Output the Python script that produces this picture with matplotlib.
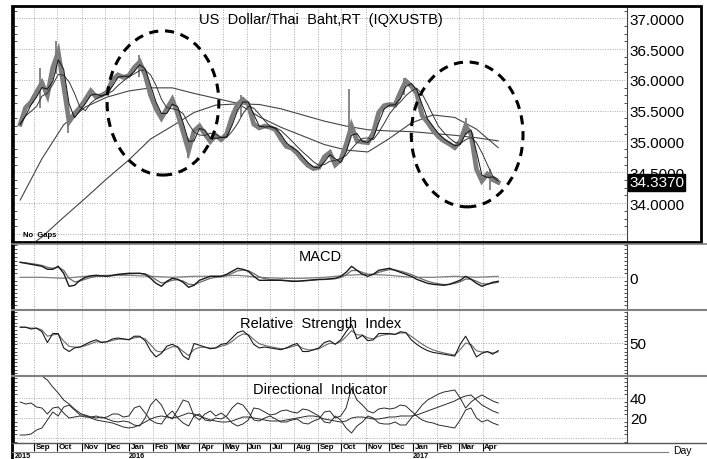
import matplotlib
matplotlib.use('Agg')
import matplotlib.pyplot as plt
import matplotlib.dates as mdates
import matplotlib.transforms as mtransforms
from matplotlib.patches import Ellipse, Rectangle
from matplotlib.lines import Line2D
from matplotlib.ticker import MultipleLocator
import pandas as pd

plt.rcParams['font.family'] = ['Liberation Sans', 'DejaVu Sans']

# ---------------- data ----------------
weeks = pd.date_range('2015-08-14', '2017-04-21', freq='W-FRI')     # 89 weekly points
grid4 = pd.date_range('2015-08-14', periods=23, freq='4W-FRI')       # 23 points, every 4 weeks

close = [35.28, 35.55, 35.64, 35.80, 35.95, 35.75, 36.20, 36.45, 35.90, 35.32,
         35.45, 35.55, 35.68, 35.82, 35.72, 35.75, 35.80, 36.00, 36.08, 36.04,
         36.07, 36.20, 36.29, 36.08, 35.75, 35.53, 35.38, 35.53, 35.68, 35.45,
         35.15, 34.85, 35.17, 35.25, 35.12, 35.00, 35.10, 35.03, 35.12, 35.40,
         35.60, 35.68, 35.60, 35.28, 35.22, 35.25, 35.23, 35.19, 35.04, 34.92,
         34.89, 34.81, 34.70, 34.61, 34.56, 34.58, 34.75, 34.82, 34.62, 34.70,
         34.95, 35.25, 35.01, 34.99, 34.98, 35.14, 35.47, 35.58, 35.60, 35.59,
         35.80, 35.98, 35.90, 35.78, 35.42, 35.31, 35.18, 35.08, 35.01, 34.96,
         34.90, 35.00, 35.25, 35.12, 34.55, 34.36, 34.47, 34.38, 34.337]

spike_dates = ['2015-09-08', '2015-09-29', '2015-10-14', '2016-01-14', '2016-03-17',
               '2016-05-24', '2016-10-11', '2016-12-20', '2017-03-10', '2017-04-10']
spike_high = [36.20, 36.63, 35.45, 36.40, 35.05, 35.75, 35.85, 36.03, 35.38, 34.55]
spike_low = [35.55, 36.10, 35.13, 36.05, 34.73, 35.40, 35.00, 35.75, 35.10, 34.22]

ma_long = [33.20, 33.45, 33.77, 34.08, 34.40, 34.70, 35.04, 35.25, 35.47, 35.59, 35.61, 35.60,
           35.53, 35.43, 35.33, 35.25, 35.19, 35.17, 35.16, 35.13, 35.10, 35.06, 35.01]
ma_medium = [34.05, 34.72, 35.27, 35.56, 35.72, 35.82, 35.87, 35.87, 35.78, 35.70, 35.62, 35.40,
             35.23, 35.09, 34.95, 34.86, 34.83, 35.05, 35.30, 35.43, 35.39, 35.20, 34.90]

macd = [0.15, 0.14, 0.13, 0.12, 0.11, 0.08, 0.08, 0.11, 0.04, -0.09,
        -0.08, -0.03, 0.00, 0.015, 0.02, 0.015, 0.01, 0.02, 0.03, 0.035,
        0.04, 0.04, 0.04, 0.03, -0.01, -0.06, -0.09, -0.04, -0.01, -0.02,
        -0.05, -0.10, -0.08, -0.03, -0.01, 0.01, 0.01, 0.01, 0.03, 0.06,
        0.09, 0.08, 0.06, 0.01, -0.03, -0.03, -0.03, -0.03, -0.03, -0.035,
        -0.04, -0.04, -0.035, -0.03, -0.025, -0.02, -0.02, -0.015, -0.01, 0.01,
        0.05, 0.11, 0.07, 0.03, 0.01, 0.03, 0.07, 0.08, 0.09, 0.07,
        0.05, 0.03, 0.01, -0.02, -0.04, -0.06, -0.07, -0.075, -0.08, -0.07,
        -0.05, -0.03, 0.01, -0.02, -0.06, -0.09, -0.07, -0.05, -0.04]
macd_flat = [0.00, 0.00, -0.01, 0.01, 0.02, 0.02, 0.01, 0.00, 0.01, 0.01, 0.02, 0.00,
             -0.01, -0.01, 0.00, 0.02, 0.03, 0.02, 0.00, 0.00, 0.01, 0.00, 0.01]

rsi = [67, 67, 65, 66, 62, 50, 60, 60, 44, 40,
       44, 45, 48, 51, 53, 50, 51, 54, 55, 54,
       53, 57, 57, 52, 41, 34, 38, 46, 48, 45,
       35, 31, 49, 47, 45, 43, 44, 48, 49, 55,
       61, 63, 58, 48, 44, 45, 44, 43, 42, 44,
       47, 49, 40, 40, 42, 44, 50, 52, 48, 53,
       62, 70, 54, 58, 52, 53, 60, 60, 60, 59,
       62, 61, 53, 48, 44, 41, 39, 38, 37, 36,
       35, 48, 57, 46, 34, 38, 40, 37, 41]

adx = [72, 70, 68, 65, 62, 58, 51, 45, 38, 34,
       29, 25, 22, 20, 18, 17, 16, 15, 13, 11,
       10, 11, 13, 16, 19, 21, 22, 21, 20, 21,
       23, 25, 24, 22, 20, 18, 17, 16, 16, 17,
       19, 21, 21, 20, 19, 18, 17, 17, 17, 18,
       19, 20, 21, 22, 22, 21, 19, 18, 17, 16,
       17, 20, 21, 21, 20, 19, 19, 20, 21, 21,
       22, 22, 22, 23, 25, 27, 29, 31, 33, 35,
       37, 40, 42, 43, 38, 33, 30, 27, 25]
plus_di = [36, 34, 35, 31, 30, 24, 30, 31, 25, 20,
           21, 22, 21, 21, 22, 20, 21, 24, 24, 21,
           22, 30, 32, 25, 18, 15, 14, 22, 27, 20,
           15, 12, 22, 24, 18, 17, 20, 19, 22, 30,
           35, 33, 26, 18, 17, 20, 22, 19, 16, 16,
           18, 19, 15, 14, 17, 19, 26, 27, 20, 22,
           30, 50, 38, 33, 27, 25, 29, 30, 29, 30,
           33, 32, 27, 22, 18, 16, 15, 13, 12, 11,
           10, 18, 28, 30, 20, 16, 18, 15, 13]
minus_di = [3, 3, 4, 8, 10, 18, 26, 22, 31, 33,
            28, 23, 23, 21, 20, 21, 19, 17, 16, 17,
            16, 13, 12, 20, 33, 39, 33, 22, 19, 28,
            38, 36, 22, 18, 24, 27, 22, 25, 21, 15,
            12, 14, 18, 30, 29, 26, 23, 24, 27, 28,
            26, 25, 29, 28, 25, 22, 16, 15, 22, 18,
            10, 5, 12, 16, 22, 20, 15, 14, 14, 16,
            13, 13, 20, 26, 33, 38, 41, 44, 46, 47,
            48, 40, 30, 36, 40, 43, 40, 37, 35]

month_starts = pd.date_range('2015-09-01', '2017-04-01', freq='MS')
month_labels = ['Sep', 'Oct', 'Nov', 'Dec', 'Jan', 'Feb', 'Mar', 'Apr', 'May', 'Jun',
                'Jul', 'Aug', 'Sep', 'Oct', 'Nov', 'Dec', 'Jan', 'Feb', 'Mar', 'Apr']
year_labels = ['2015', '2016', '2017']
year_dates = ['2015-08-07', '2016-01-01', '2017-01-01']

price_ticks = [33.5, 34.0, 34.5, 35.0, 35.5, 36.0, 36.5, 37.0]
price_tick_labels = ['', '34.0000', '34.5000', '35.0000', '35.5000', '36.0000', '36.5000', '37.0000']
last_price = 34.337

# derived lines
s_close = pd.Series(close)
ma_fast = s_close.rolling(2, min_periods=1).mean()
ma_mid = s_close.rolling(4, min_periods=1).mean()
macd_signal = pd.Series(macd).ewm(span=3, adjust=False).mean()
rsi_signal = pd.Series(rsi).ewm(span=3, adjust=False).mean()

# ---------------- figure ----------------
W, H = 707, 460
fig = plt.figure(figsize=(W / 100, H / 100), dpi=100)
fig.patch.set_facecolor('white')


def fx(px):
    return px / W


def fy(py):
    return 1 - py / H


L, R = 14, 627
aw = (R - L) / W
ax_p = fig.add_axes([fx(L), fy(242), aw, (242 - 7.5) / H])
ax_m = fig.add_axes([fx(L), fy(309.5), aw, (309.5 - 244) / H])
ax_r = fig.add_axes([fx(L), fy(376), aw, (376 - 311.5) / H])
ax_d = fig.add_axes([fx(L), fy(444), aw, (444 - 377.5) / H])

xmin, xmax = pd.Timestamp('2015-08-06'), pd.Timestamp('2017-10-04')
grid_kw = dict(color='#a8a8a8', linestyle=(0, (1, 1.5)), linewidth=0.7)

for ax in (ax_p, ax_m, ax_r, ax_d):
    ax.set_xlim(xmin, xmax)
    ax.set_xticks(month_starts)
    ax.tick_params(axis='x', which='both', bottom=False, top=False, labelbottom=False)
    ax.grid(True, which='major', **grid_kw)
    ax.set_axisbelow(True)
    ax.yaxis.tick_right()
    ax.tick_params(axis='y', which='major', length=0, pad=2, labelsize=11,
                   labelright=True, labelleft=False)
    ax.tick_params(axis='y', which='minor', left=True, right=True, direction='in',
                   length=2.2, width=0.6, color='#333333')
    ax.spines['top'].set_visible(False)
    ax.spines['bottom'].set_visible(False)
    ax.spines['left'].set_linewidth(1.2)
    ax.spines['right'].set_linestyle((0, (1, 1)))
    ax.spines['right'].set_color('#444444')

# ---- price panel ----
ax_p.set_ylim(33.385, 37.19)
ax_p.set_yticks(price_ticks)
ax_p.set_yticklabels(price_tick_labels)
ax_p.yaxis.set_minor_locator(MultipleLocator(0.125))
ax_p.plot(grid4, ma_long, color='#444444', lw=0.8, zorder=2)
ax_p.plot(grid4, ma_medium, color='#444444', lw=0.8, zorder=2)
ax_p.vlines(pd.to_datetime(spike_dates), spike_low, spike_high, color='#7d7d7d', lw=1.3, zorder=3)
ax_p.plot(weeks, close, color='#7d7d7d', lw=3.4, solid_joinstyle='miter', zorder=3)
ax_p.plot(weeks, ma_mid, color='#333333', lw=0.7, zorder=4)
ax_p.plot(weeks, ma_fast, color='#111111', lw=0.7, zorder=4)

ell_kw = dict(fill=False, ec='black', lw=2.2, ls=(0, (3, 2.2)), zorder=6)
ax_p.add_patch(Ellipse((mdates.date2num(pd.Timestamp('2016-02-14')), 35.625),
                       width=144, height=2.34, **ell_kw))
ax_p.add_patch(Ellipse((mdates.date2num(pd.Timestamp('2017-03-12')), 35.114),
                       width=144, height=2.35, **ell_kw))

ax_p.text(0.5, 0.978, 'US  Dollar/Thai  Baht,RT  (IQXUSTB)', transform=ax_p.transAxes,
          ha='center', va='top', fontsize=10.5)
ax_p.text(0.015, 0.012, 'No  Gaps', transform=ax_p.transAxes, ha='left', va='bottom',
          fontsize=5.5, fontweight='bold')
bt = mtransforms.blended_transform_factory(ax_p.transAxes, ax_p.transData)
ax_p.text(1.0035, last_price, '34.3370', transform=bt, ha='left', va='center', fontsize=11,
          color='white', zorder=10, clip_on=False,
          bbox=dict(boxstyle='square,pad=0.08', fc='black', ec='black'))

# ---- MACD ----
ax_m.set_ylim(-0.312, 0.343)
ax_m.set_yticks([0])
ax_m.set_yticklabels(['0'])
ax_m.yaxis.set_minor_locator(MultipleLocator(0.04))
ax_m.plot(grid4, macd_flat, color='#808080', lw=0.9)
ax_m.plot(weeks, macd_signal, color='#6a6a6a', lw=0.9)
ax_m.plot(weeks, macd, color='#1a1a1a', lw=1.0)
ax_m.text(0.5, 0.905, 'MACD', transform=ax_m.transAxes, ha='center', va='top', fontsize=10.5)

# ---- RSI ----
ax_r.set_ylim(13.9, 85.6)
ax_r.set_yticks([50])
ax_r.set_yticklabels(['50'])
ax_r.yaxis.set_minor_locator(MultipleLocator(4))
ax_r.plot(weeks, rsi_signal, color='#6a6a6a', lw=0.8)
ax_r.plot(weeks, rsi, color='#1a1a1a', lw=0.8)
ax_r.text(0.5, 0.915, 'Relative  Strength  Index', transform=ax_r.transAxes,
          ha='center', va='top', fontsize=10.5)

# ---- Directional Indicator ----
ax_d.set_ylim(-5, 61.5)
ax_d.set_yticks([0, 20, 40])
ax_d.set_yticklabels(['', '20', '40'])
ax_d.yaxis.set_minor_locator(MultipleLocator(4))
ax_d.plot(weeks, adx, color='#2a2a2a', lw=0.7)
ax_d.plot(weeks, plus_di, color='#2a2a2a', lw=0.7)
ax_d.plot(weeks, minus_di, color='#2a2a2a', lw=0.7)
ax_d.text(0.5, 0.915, 'Directional  Indicator', transform=ax_d.transAxes,
          ha='center', va='top', fontsize=10.5)
ax_d.tick_params(axis='x', which='major', bottom=True, direction='out', length=6,
                 width=0.8, color='black')

narrow = ['Liberation Sans Narrow', 'Liberation Sans', 'DejaVu Sans']
for d, lab in zip(month_starts, month_labels):
    fig.text(fx(L) + aw * (mdates.date2num(d + pd.Timedelta(days=2)) - mdates.date2num(xmin))
             / (mdates.date2num(xmax) - mdates.date2num(xmin)),
             fy(448), lab, ha='left', va='center', fontsize=5.8, fontweight='bold',
             family=narrow)
for d, lab in zip(pd.to_datetime(year_dates), year_labels):
    fig.text(fx(L) + aw * (mdates.date2num(d) - mdates.date2num(xmin))
             / (mdates.date2num(xmax) - mdates.date2num(xmin)),
             fy(460), lab, ha='left', va='bottom', fontsize=5.2, fontweight='bold',
             family=narrow)

fig.text(fx(673), fy(451.5), 'Day', fontsize=7.5, ha='left', va='center')

# ---------------- frame lines ----------------
fig.add_artist(Rectangle((fx(11.5), fy(242.5)), fx(701) - fx(11.5), (242.5 - 7) / H,
                         fill=False, ec='black', lw=2.0, transform=fig.transFigure, zorder=20))
fig.add_artist(Line2D([fx(11.5), fx(11.5)], [fy(242), fy(460)], color='black', lw=2.0,
                      transform=fig.transFigure, zorder=20))
for yy, col, lw, x1 in [(244.5, '#808080', 1.2, 707), (310.5, '#808080', 1.5, 707),
                        (377, '#808080', 1.5, 707), (444.3, '#555555', 1.0, 707),
                        (452.8, '#808080', 0.8, 668)]:
    fig.add_artist(Line2D([fx(11.5), fx(x1)], [fy(yy), fy(yy)], color=col, lw=lw,
                          transform=fig.transFigure, zorder=20))

fig.savefig('out.png', dpi=100)
